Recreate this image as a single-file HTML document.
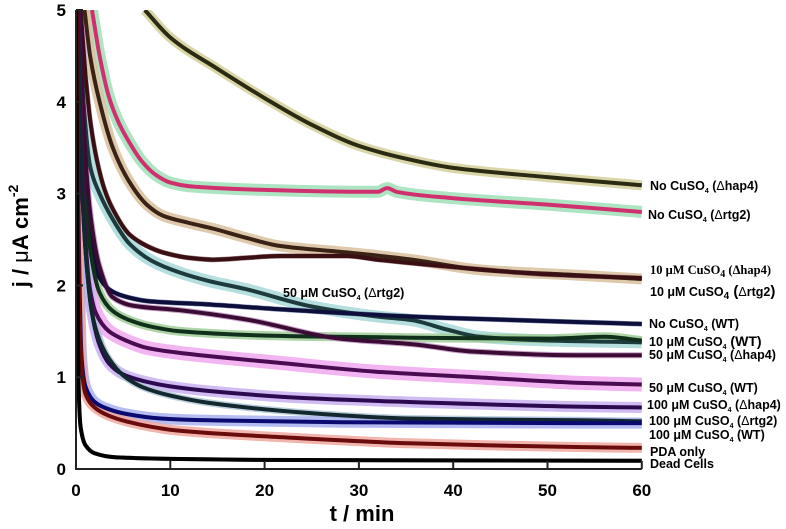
<!DOCTYPE html>
<html><head><meta charset="utf-8"><style>
html,body{margin:0;padding:0;background:#fff;}
svg{display:block;font-family:"Liberation Sans",Arial,sans-serif;}
.lab{font-size:12.5px;font-weight:bold;fill:#000;}
.serif{font-family:"Liberation Serif",serif;}
</style></head><body>
<svg id="chart" width="786" height="529" viewBox="0 0 786 529" xmlns="http://www.w3.org/2000/svg">
<g id="bands"></g>
<g id="lines"></g>
<g id="axes"></g>
<g id="labels">
<text class="lab" x="650" y="190">No CuSO<tspan font-size="7" dy="3">4</tspan><tspan dy="-3"> (</tspan><tspan font-weight="normal">Δ</tspan>hap4)</text>
<text class="lab" x="648" y="219">No CuSO<tspan font-size="7" dy="3">4</tspan><tspan dy="-3"> (</tspan><tspan font-weight="normal">Δ</tspan>rtg2)</text>
<text class="lab serif" x="650" y="274" font-size="14">10 μM  CuSO<tspan font-size="10" dy="3">4</tspan><tspan dy="-3"> (Δhap4)</tspan></text>
<text class="lab" x="650" y="296" font-size="13">10 μM CuSO<tspan font-size="10" dy="3">4</tspan><tspan dy="-3" font-size="15"> (</tspan><tspan font-weight="normal">Δ</tspan>rtg2<tspan font-size="15">)</tspan></text>
<text class="lab" x="649" y="328">No CuSO<tspan font-size="7" dy="3">4</tspan><tspan dy="-3"> (WT)</tspan></text>
<text class="lab" x="649" y="346">10 μM CuSO<tspan font-size="7" dy="3">4</tspan><tspan dy="-3" font-size="14"> (WT)</tspan></text>
<text class="lab" x="649" y="359">50 μM CuSO<tspan font-size="7" dy="3">4</tspan><tspan dy="-3"> (</tspan><tspan font-weight="normal">Δ</tspan>hap4)</text>
<text class="lab" x="649" y="392">50 μM CuSO<tspan font-size="7" dy="3">4</tspan><tspan dy="-3"> (WT)</tspan></text>
<text class="lab" x="647" y="409">100 μM CuSO<tspan font-size="7" dy="3">4</tspan><tspan dy="-3"> (</tspan><tspan font-weight="normal">Δ</tspan>hap4)</text>
<text class="lab" x="649" y="425">100 μM CuSO<tspan font-size="7" dy="3">4</tspan><tspan dy="-3"> (</tspan><tspan font-weight="normal">Δ</tspan>rtg2)</text>
<text class="lab" x="649" y="439">100 μM CuSO<tspan font-size="7" dy="3">4</tspan><tspan dy="-3"> (WT)</tspan></text>
<text class="lab" x="650" y="456">PDA only</text>
<text class="lab" x="650" y="468">Dead Cells</text>
<text class="lab" x="283" y="297">50 μM CuSO<tspan font-size="7" dy="3">4</tspan><tspan dy="-3"> (</tspan><tspan font-weight="normal">Δ</tspan>rtg2)</text>
</g>
<text x="362" y="521" text-anchor="middle" font-size="22" font-weight="bold">t / min</text>
<text transform="translate(28,236) rotate(-90)" text-anchor="middle" font-size="22" font-weight="bold">j / <tspan font-weight="normal">μ</tspan>A cm<tspan font-size="14" dy="-10">-2</tspan></text>
</svg>
<script>
const xTicks=[0,10,20,30,40,50,60];
const yTicks=[0,1,2,3,4,5];
const sNoHap4=[[7.3,5],[10,4.7],[15,4.36],[20,4.04],[25,3.75],[30,3.52],[35,3.38],[40,3.28],[50,3.18],[60,3.09]];
const sNoRtg2=[[1.7,5],[2.5,4.5],[3.5,4.05],[4.5,3.78],[5.7,3.55],[7,3.35],[8.5,3.2],[10,3.12],[12,3.08],[15,3.06],[20,3.04],[30,3.02],[32,3.02],[33,3.06],[34,3.02],[40,2.95],[50,2.88],[60,2.8]];
const s10Hap4=[[0.9,5],[1.5,4.5],[2.5,4.0],[3.9,3.5],[5.7,3.12],[7.5,2.88],[9.2,2.76],[12,2.68],[14.5,2.62],[18,2.52],[21.6,2.43],[28.7,2.36],[35.7,2.28],[42.8,2.17],[53.4,2.11],[60,2.07]];
const s10Rtg2=[[0.5,5],[1,4.3],[1.5,3.8],[2.2,3.37],[3,3.05],[3.9,2.83],[5.7,2.55],[7.5,2.43],[9.2,2.36],[12,2.3],[14.5,2.28],[18,2.3],[21.6,2.32],[28.7,2.32],[32,2.28],[40,2.2],[50,2.12],[60,2.08]];
const s50Rtg2=[[0.3,5],[0.8,4],[1.5,3.3],[2.5,3.0],[3.9,2.72],[5.7,2.45],[8,2.27],[11,2.14],[14,2.05],[18,1.96],[25,1.77],[32,1.66],[35.7,1.62],[39.3,1.52],[42.8,1.44],[50,1.4],[60,1.38]];
const sNoWT=[[0.2,5],[0.5,4],[1,3.0],[1.5,2.5],[2.5,2.08],[3.9,1.93],[5.5,1.87],[7.5,1.83],[14.5,1.79],[21.6,1.74],[35.7,1.66],[53.4,1.6],[60,1.58]];
const s10WT=[[0.3,5],[0.6,4],[1,3.0],[1.5,2.4],[2.5,1.92],[3.9,1.72],[5.7,1.62],[8,1.55],[11,1.5],[21.6,1.45],[35.7,1.43],[50,1.42],[56,1.44],[60,1.4]];
const s50Hap4=[[0.4,5],[0.8,3.8],[1.5,2.8],[2.5,2.2],[3.9,1.87],[6,1.78],[11,1.73],[18,1.63],[28,1.42],[35.7,1.36],[42,1.28],[53,1.24],[60,1.24]];
const s50WT=[[0.3,5],[0.6,3.5],[1,2.5],[1.5,1.95],[2.1,1.7],[3.5,1.5],[5.3,1.4],[7.5,1.32],[10.6,1.27],[21.2,1.16],[31.8,1.06],[42.4,1.0],[53,0.94],[60,0.92]];
const s100Hap4=[[0.2,5],[0.5,3.5],[1,2.4],[1.7,1.7],[2.5,1.35],[3.5,1.15],[5,1.03],[7.1,0.96],[10,0.9],[14.1,0.85],[24.7,0.77],[35.3,0.73],[53,0.68],[60,0.67]];
const s100Rtg2=[[0.2,5],[0.5,3.5],[1,2.4],[1.7,1.7],[2.5,1.4],[3.5,1.2],[5,1.02],[7.1,0.89],[10,0.8],[14.1,0.72],[24.7,0.61],[35.3,0.55],[53,0.53],[60,0.52]];
const s100WT=[[0.1,5],[0.3,2.5],[0.6,1.2],[1,0.9],[2.1,0.72],[3.5,0.65],[5.3,0.6],[9,0.55],[14.1,0.53],[28.3,0.51],[53,0.5],[60,0.5]];
const sPDA=[[0.1,5],[0.3,2.2],[0.6,1.1],[1,0.82],[2.1,0.66],[3.5,0.58],[5.3,0.52],[8,0.46],[10.6,0.42],[21.2,0.35],[35.3,0.28],[53,0.24],[60,0.23]];
const sDead=[[0.02,5],[0.1,3],[0.25,1],[0.5,0.45],[1,0.26],[2,0.17],[4,0.13],[10,0.11],[17.7,0.1],[60,0.09]];

const X0=76,XS=9.43,Y0=469,YS=91.8;
function xs(t){return X0+t*XS;}
function ys(j){return Y0-j*YS;}
const NS='http://www.w3.org/2000/svg';
function pathD(data){
  const p=data.map(d=>[xs(d[0]),ys(d[1])]);
  const n=p.length;const dx=[],m=[],tg=[];
  for(let i=0;i<n-1;i++){dx[i]=p[i+1][0]-p[i][0];m[i]=(p[i+1][1]-p[i][1])/dx[i];}
  tg[0]=m[0];tg[n-1]=m[n-2];
  for(let i=1;i<n-1;i++){
    if(m[i-1]*m[i]<=0)tg[i]=0;
    else{const w1=2*dx[i]+dx[i-1],w2=dx[i]+2*dx[i-1];tg[i]=(w1+w2)/(w1/m[i-1]+w2/m[i]);}
  }
  let d='M'+p[0][0].toFixed(1)+','+p[0][1].toFixed(1);
  for(let i=0;i<n-1;i++){
    const h=dx[i]/3;
    d+=' C'+(p[i][0]+h).toFixed(1)+','+(p[i][1]+tg[i]*h).toFixed(1)+' '+(p[i+1][0]-h).toFixed(1)+','+(p[i+1][1]-tg[i+1]*h).toFixed(1)+' '+p[i+1][0].toFixed(1)+','+p[i+1][1].toFixed(1);
  }
  return d;
}
const series=[
 {n:'no-cuso4-hap4',d:sNoHap4,line:'#2b2a12',band:'#d4cf9a',bw:10},
 {n:'no-cuso4-rtg2',d:sNoRtg2,line:'#d0306e',band:'#9fe0b8',bw:12},
 {n:'10um-hap4',d:s10Hap4,line:'#3a2214',band:'#d8bf9e',bw:11},
 {n:'10um-rtg2',d:s10Rtg2,line:'#3a0f14',band:'#8a6060',bw:5},
 {n:'50um-rtg2',d:s50Rtg2,line:'#1d3a3c',band:'#a8d8d8',bw:12},
 {n:'no-cuso4-wt',d:sNoWT,line:'#0e0e3a',band:'#6070a0',bw:5},
 {n:'10um-wt',d:s10WT,line:'#10301c',band:'#a0cc98',bw:9},
 {n:'50um-hap4',d:s50Hap4,line:'#3a0c34',band:'#c090c0',bw:6},
 {n:'50um-wt',d:s50WT,line:'#4a0c50',band:'#f0a8f0',bw:14},
 {n:'100um-hap4',d:s100Hap4,line:'#2c0a50',band:'#c8b0f0',bw:11},
 {n:'100um-rtg2',d:s100Rtg2,line:'#12282e',band:'#b0c8d8',bw:7},
 {n:'100um-wt',d:s100WT,line:'#0a0a70',band:'#a8b0f0',bw:11},
 {n:'pda-only',d:sPDA,line:'#6a0c0c',band:'#f0a8a0',bw:10},
 {n:'dead-cells',d:sDead,line:'#000000',band:'#888',bw:4}
];
const gb=document.getElementById('bands'),gl=document.getElementById('lines');
series.forEach(s=>{
  const b=document.createElementNS(NS,'path');
  b.setAttribute('d',pathD(s.d));b.setAttribute('fill','none');
  b.setAttribute('stroke',s.band);b.setAttribute('stroke-width',s.bw);b.setAttribute('opacity','0.85');
  
  
  gb.appendChild(b);
});
series.forEach(s=>{
  const l=document.createElementNS(NS,'path');
  l.setAttribute('d',pathD(s.d));l.setAttribute('fill','none');
  l.setAttribute('stroke',s.line);l.setAttribute('stroke-width',4);
  
  
  gl.appendChild(l);
});
const cp=document.createElementNS(NS,'clipPath');cp.setAttribute('id','cp');
const cr=document.createElementNS(NS,'rect');cr.setAttribute('x',X0);cr.setAttribute('y',ys(5));cr.setAttribute('width',600);cr.setAttribute('height',Y0-ys(5));
cp.appendChild(cr);document.getElementById('chart').prepend(cp);
gb.setAttribute('clip-path','url(#cp)');gl.setAttribute('clip-path','url(#cp)');
const ga=document.getElementById('axes');
function ln(x1,y1,x2,y2,name){const e=document.createElementNS(NS,'line');e.setAttribute('x1',x1);e.setAttribute('y1',y1);e.setAttribute('x2',x2);e.setAttribute('y2',y2);e.setAttribute('stroke','#222');e.setAttribute('stroke-width',2);
 
 
 ga.appendChild(e);}
ln(X0,ys(5),X0,Y0+1,'y-axis-line');
ln(X0-1,Y0,xs(60),Y0,'x-axis-line');
xTicks.forEach(t=>{ln(xs(t),Y0,xs(t),Y0-8,'x-tick');
 const tx=document.createElementNS(NS,'text');tx.setAttribute('x',xs(t));tx.setAttribute('y',Y0+27);tx.setAttribute('text-anchor','middle');tx.setAttribute('font-size','17');tx.setAttribute('font-weight','bold');tx.textContent=t;
 
 
 ga.appendChild(tx);});
yTicks.forEach(v=>{ln(X0,ys(v),X0+7,ys(v),'y-tick');
 const tx=document.createElementNS(NS,'text');tx.setAttribute('x',66);tx.setAttribute('y',ys(v)+6);tx.setAttribute('text-anchor','end');tx.setAttribute('font-size','17');tx.setAttribute('font-weight','bold');tx.textContent=v;
 
 
 ga.appendChild(tx);});
</script>
</body></html>
